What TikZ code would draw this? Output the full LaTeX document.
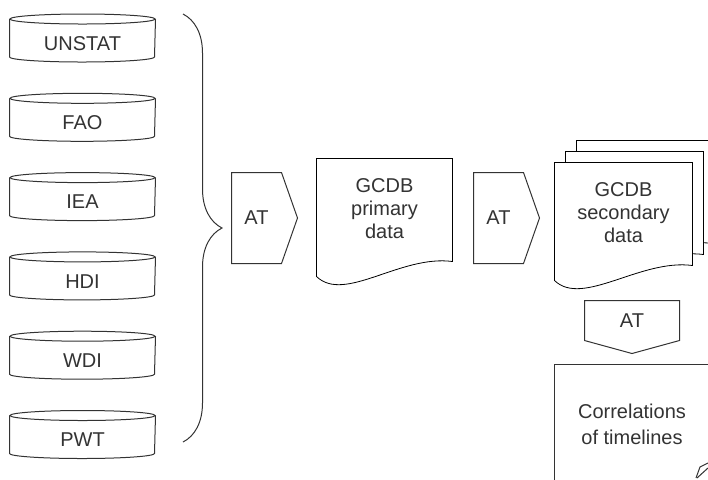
\documentclass[tikz,border=0pt]{standalone}
\usepackage{fontspec}
\setmainfont{Liberation Sans}
\usetikzlibrary{positioning, calc, backgrounds, decorations.pathreplacing}
\definecolor{ink}{HTML}{333333}

\begin{document}
\begin{tikzpicture}[x=0.5pt, y=-0.5pt, line width=0.5pt, color=ink,
    font=\fontsize{10}{11.5}\selectfont,
    db/.style={minimum width=72.5pt, minimum height=24pt, inner sep=0pt},
    tool/.style={minimum width=24.5pt, minimum height=45pt, inner sep=0pt},
    doc/.style={minimum height=50pt, inner sep=0pt, align=center}]
    \useasboundingbox (0,0) rectangle (708,479);
    \clip (0,0) rectangle (708,479);

    % data sources
    \node[db] (unstat) at (82.5,43.5) {UNSTAT};
    \node[db, below=15.15pt of unstat] (fao) {FAO};
    \node[db, below=15.15pt of fao] (iea) {IEA};
    \node[db, below=15.15pt of iea] (hdi) {HDI};
    \node[db, below=15.15pt of hdi] (wdi) {WDI};
    \node[db, below=15.15pt of wdi] (pwt) {PWT};
    \foreach \s in {unstat,fao,iea,hdi,wdi,pwt} {
        \draw (\s.north) ellipse [x radius=36.25pt, y radius=2.5pt];
        \draw (\s.north west) -- ++(0,38)
            arc [start angle=180, end angle=360, x radius=36.25pt, y radius=2.5pt]
            -- (\s.north east);
    }

    \coordinate (btop) at (183,14);
    \coordinate (bbot) at (183,442);
    \draw[decorate, decoration={brace, amplitude=19.5pt}] (btop) -- (bbot);

    % tools and databases
    \node[tool] (at1) at (256.5,218) {AT};
    \node[doc, minimum width=67.5pt] (prim) at (384.5,209) {GCDB\\primary\\data};
    \node[tool] (at2) at (498.5,218) {AT};
    \node[doc, minimum width=68.5pt] (sec3) at (645.5,191) {};
    \node[doc, minimum width=68.5pt] (sec2) at (634.5,202) {};
    \node[doc, minimum width=68.5pt] (sec) at (623.5,213) {GCDB\\secondary\\data};
    \node[minimum width=47pt, minimum height=19.5pt, inner sep=0pt] (at3) at (632,320.5) {AT};
    \node[draw, minimum width=78pt, minimum height=60pt, align=center,
        font=\fontsize{10}{13}\selectfont] (corr) at (632,424) {Correlations\\of timelines};

    \foreach \a in {at1,at2}
        \draw (\a.north west) -- (\a.north east) -- ($(\a.east)+(16,0)$)
            -- (\a.south east) -- (\a.south west) -- cycle;
    \draw (at3.south west) -- (at3.north west) -- (at3.north east)
        -- (at3.south east) -- ($(at3.south)+(0,13)$) -- cycle;

    \begin{scope}[on background layer]
        \foreach \d in {prim,sec3,sec2,sec}
            \draw[fill=white] (\d.north west) -- (\d.north east) -- ($(\d.south east)+(0,2)$)
                .. controls ($(\d.south east)+(-52,-5)$) and ($(\d.south west)+(28,44)$)
                .. ($(\d.south west)+(0,17)$) -- cycle;
    \end{scope}

    \draw (696,478) -- (700,467) -- (708,463);
    \draw (697,478) -- (708,468);
\end{tikzpicture}
\end{document}
